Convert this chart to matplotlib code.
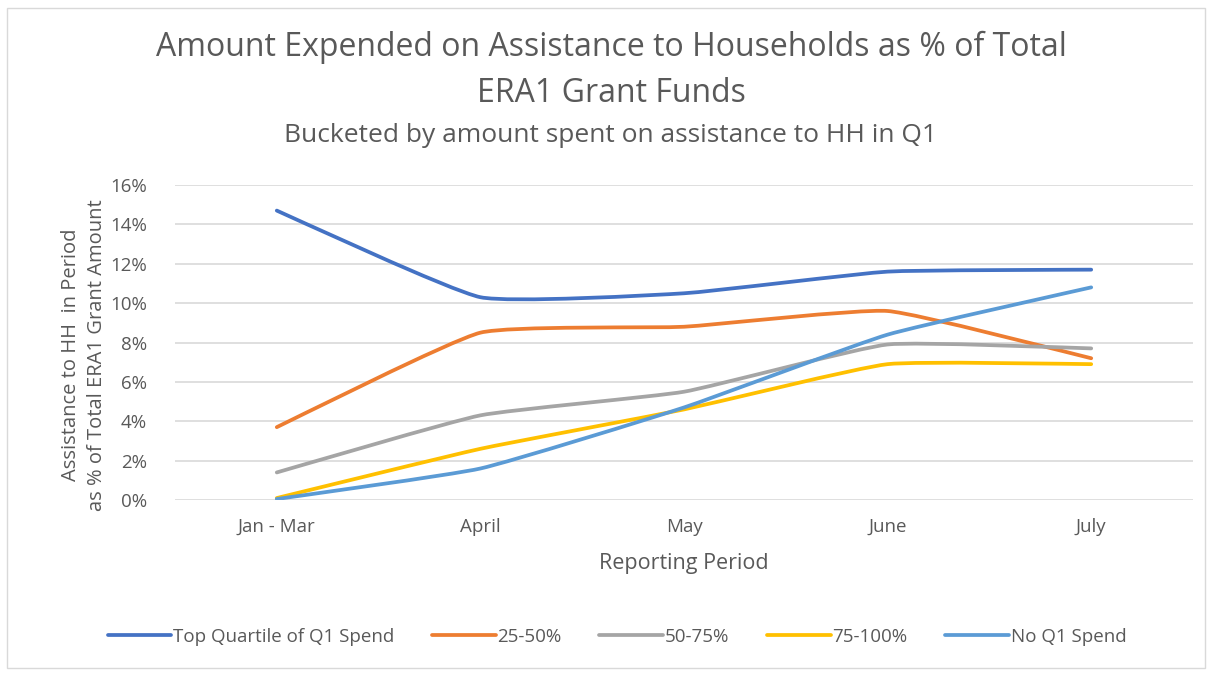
import matplotlib
matplotlib.use("Agg")
import matplotlib.pyplot as plt
from matplotlib.path import Path
from matplotlib.patches import PathPatch, Rectangle
from matplotlib.lines import Line2D
from matplotlib import font_manager
from matplotlib.ticker import PercentFormatter

periods = ["Jan - Mar", "April", "May", "June", "July"]
series_names = ["Top Quartile of Q1 Spend", "25-50%", "50-75%", "75-100%", "No Q1 Spend"]
top_quartile = [14.7, 10.3, 10.5, 11.6, 11.7]
q25_50 = [3.7, 8.5, 8.8, 9.6, 7.2]
q50_75 = [1.4, 4.3, 5.5, 7.9, 7.7]
q75_100 = [0.1, 2.6, 4.6, 6.9, 6.9]
no_q1 = [0.05, 1.6, 4.7, 8.4, 10.8]
yticks = [0, 2, 4, 6, 8, 10, 12, 14, 16]

colors = ["#4472C4", "#ED7D31", "#A5A5A5", "#FFC000", "#5B9BD5"]
all_series = [top_quartile, q25_50, q50_75, q75_100, no_q1]

names = {f.name for f in font_manager.fontManager.ttflist}
fam = "Liberation Sans Narrow" if "Liberation Sans Narrow" in names else "Open Sans"
plt.rcParams["font.family"] = [fam, "DejaVu Sans"]

txt = "#595959"
fig = plt.figure(figsize=(12.12, 6.74), dpi=100)
ax = fig.add_axes([175 / 1212, 1 - 500 / 674, (1193 - 175) / 1212, (500 - 185) / 674])

TENSION = 1 / 14


def smooth_path(xs, ys):
    pts = list(zip(xs, ys))
    n = len(pts)
    verts = [pts[0]]
    codes = [Path.MOVETO]
    for i in range(n - 1):
        p0 = pts[max(i - 1, 0)]
        p1 = pts[i]
        p2 = pts[i + 1]
        p3 = pts[min(i + 2, n - 1)]
        c1 = (p1[0] + (p2[0] - p0[0]) * TENSION, p1[1] + (p2[1] - p0[1]) * TENSION)
        c2 = (p2[0] - (p3[0] - p1[0]) * TENSION, p2[1] - (p3[1] - p1[1]) * TENSION)
        verts += [c1, c2, p2]
        codes += [Path.CURVE4] * 3
    return Path(verts, codes)


xs = list(range(len(periods)))
for vals, col in zip(all_series, colors):
    patch = PathPatch(smooth_path(xs, vals), facecolor="none", edgecolor=col,
                      lw=2.7, capstyle="round", joinstyle="round", zorder=3)
    ax.add_patch(patch)

ax.set_xlim(-0.5, len(periods) - 0.5)
ax.set_ylim(0, 16)
ax.set_yticks(yticks)
ax.yaxis.set_major_formatter(PercentFormatter(decimals=0))
ax.set_xticks(xs)
ax.set_xticklabels(periods)
ax.grid(axis="y", color="#D9D9D9", lw=1.2)
ax.set_axisbelow(True)
for s in ax.spines.values():
    s.set_visible(False)
ax.tick_params(length=0, colors=txt, labelsize=13.5)
ax.tick_params(axis="x", pad=13)
ax.tick_params(axis="y", pad=20)

ax.set_xlabel("Reporting Period", fontsize=15.5, color=txt, labelpad=12)
fig.text(84 / 1212, 1 - 355 / 674, "Assistance to HH  in Period\nas % of Total ERA1 Grant Amount",
         rotation=90, ha="center", va="center", fontsize=14.5, color=txt, linespacing=1.45)

fig.text(611 / 1212, 1 - 47 / 674, "Amount Expended on Assistance to Households as % of Total",
         ha="center", va="center", fontsize=23, color=txt)
fig.text(611 / 1212, 1 - 93 / 674, "ERA1 Grant Funds",
         ha="center", va="center", fontsize=23, color=txt)
fig.text(611 / 1212, 1 - 136 / 674, "Bucketed by amount spent on assistance to HH in Q1",
         ha="center", va="center", fontsize=19, color=txt)

handles = [Line2D([0], [0], color=c, lw=2.7, solid_capstyle="round") for c in colors]
leg = fig.legend(handles, series_names, loc="center", bbox_to_anchor=(617 / 1212, 1 - 637 / 674),
                 ncol=5, frameon=False, fontsize=13.5, handlelength=3.4, handletextpad=0.1,
                 columnspacing=2.0)
for t in leg.get_texts():
    t.set_color(txt)

fig.patches.append(Rectangle((7 / 1212, 6 / 674), 1198 / 1212, 660 / 674, transform=fig.transFigure,
                             fill=False, edgecolor="#D9D9D9", lw=1))

fig.savefig("out.png", dpi=100, facecolor="white")
